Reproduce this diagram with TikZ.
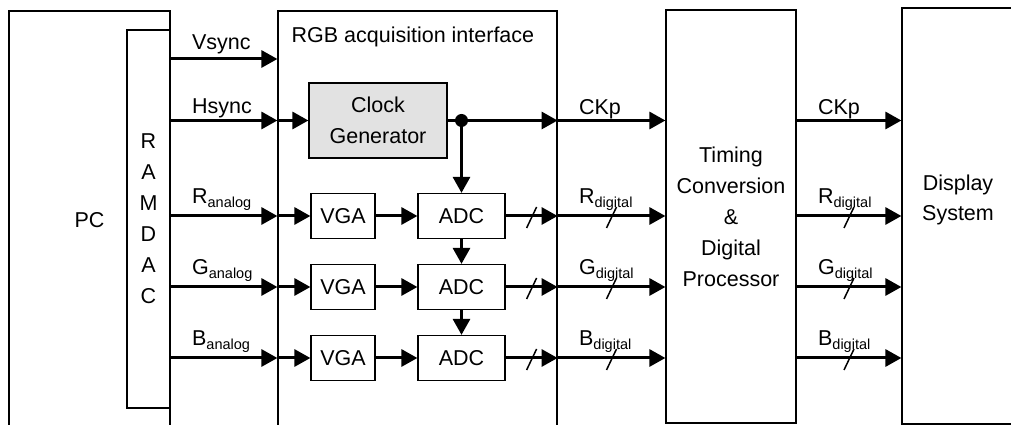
\documentclass[tikz,border=0pt]{standalone}
\usepackage{fontspec}
\setmainfont{Liberation Sans}
\usetikzlibrary{arrows.meta,positioning,calc}
\definecolor{grisHorloge}{RGB}{226,226,226}
\newcommand{\indice}[1]{\raisebox{-4pt}{\fontsize{14.5}{15}\selectfont #1}}

\begin{document}
\begin{tikzpicture}[x=1pt,y=1pt,font=\fontsize{21.5}{31}\selectfont,
  bloc/.style={draw, line width=1.2pt, inner sep=0pt, align=center},
  sig/.style={line width=3pt, -{Triangle[length=16pt,width=17pt]}},
  barre/.style={line width=1.5pt},
  etiq/.style={anchor=base west, inner sep=0pt, xshift=20pt}]
\useasboundingbox (0,0) rectangle (1011,425);
\clip (0,0) rectangle (1011,425);

\node[bloc, minimum width=161, minimum height=419] (pc) at (89.5,204.5) {PC};
\node[bloc, minimum width=43, minimum height=378] (ramdac) at (148.5,206) {R\\A\\M\\D\\A\\C};
\node[bloc, minimum width=279, minimum height=419] (rgb) at (417.5,204.5) {};
\node[anchor=base west, inner sep=0pt] (rgbtitre) at ($(rgb.north west)+(14,-32)$) {RGB acquisition interface};
\node[bloc, fill=grisHorloge, minimum width=138, minimum height=75] (clk) at (378,304.5) {Clock\\Generator};
\node[bloc, minimum width=130, minimum height=413] (timing) at (731,208.5) {Timing\\Conversion\\\&\\Digital\\Processor};
\node[bloc, minimum width=138, minimum height=416] (display) at (971,209) {};
\node[align=center, inner sep=0pt, font=\fontsize{21.5}{30}\selectfont] (displaytxt) at (958,225) {Display\\System};

\foreach \n/\y in {1/209,2/138,3/67} {
  \node[bloc, minimum width=64, minimum height=45] (vga\n) at (343,\y) {VGA};
  \node[bloc, minimum width=87, minimum height=45] (adc\n) at (461.5,\y) {ADC};
}

\coordinate (vs) at (0,366);
\draw[sig] (ramdac.east |- vs) -- (rgb.west |- vs)
  node[etiq, pos=0, yshift=9pt] (lvsync) {Vsync};
\draw[sig] (ramdac.east |- clk) -- (rgb.west |- clk)
  node[etiq, pos=0, yshift=7pt] (lhsync) {Hsync};
\draw[sig] (rgb.west |- clk) -- (clk.west);

\coordinate (noeud) at (adc1.north |- clk.east);
\draw[sig] (clk.east) -- (rgb.east |- clk);
\fill (noeud) circle (6.5);
\draw[sig] (noeud) -- (adc1.north);
\draw[sig] (adc1.south) -- (adc2.north);
\draw[sig] (adc2.south) -- (adc3.north);
\draw[sig] (rgb.east |- clk) -- (timing.west |- clk)
  node[etiq, pos=0, yshift=6pt] (lckp1) {CKp};
\draw[sig] (timing.east |- clk) -- (display.west |- clk)
  node[etiq, pos=0, yshift=6pt] (lckp2) {CKp};

\foreach \c/\n in {R/1,G/2,B/3} {
  \draw[sig] (ramdac.east |- vga\n) -- (rgb.west |- vga\n)
    node[etiq, pos=0, yshift=12pt] (lan\n) {\c\indice{analog}};
  \draw[sig] (rgb.west |- vga\n) -- (vga\n);
  \draw[sig] (vga\n) -- (adc\n);
  \draw[sig] (adc\n) -- (rgb.east |- adc\n);
  \draw[barre] ($(adc\n.east)!.5!(rgb.east |- adc\n)$) +(-5,-12) -- +(5,9);
  \draw[sig] (rgb.east |- adc\n) -- (timing.west |- adc\n)
    node[etiq, pos=0, yshift=12pt] (ldg\n) {\c\indice{digital}};
  \draw[barre] ($(rgb.east |- adc\n)!.5!(timing.west |- adc\n)$) +(-5,-12) -- +(5,9);
  \draw[sig] (timing.east |- adc\n) -- (display.west |- adc\n)
    node[etiq, pos=0, yshift=12pt] (ldo\n) {\c\indice{digital}};
  \draw[barre] ($(timing.east |- adc\n)!.5!(display.west |- adc\n)$) +(-5,-12) -- +(5,9);
}

\end{tikzpicture}
\end{document}
